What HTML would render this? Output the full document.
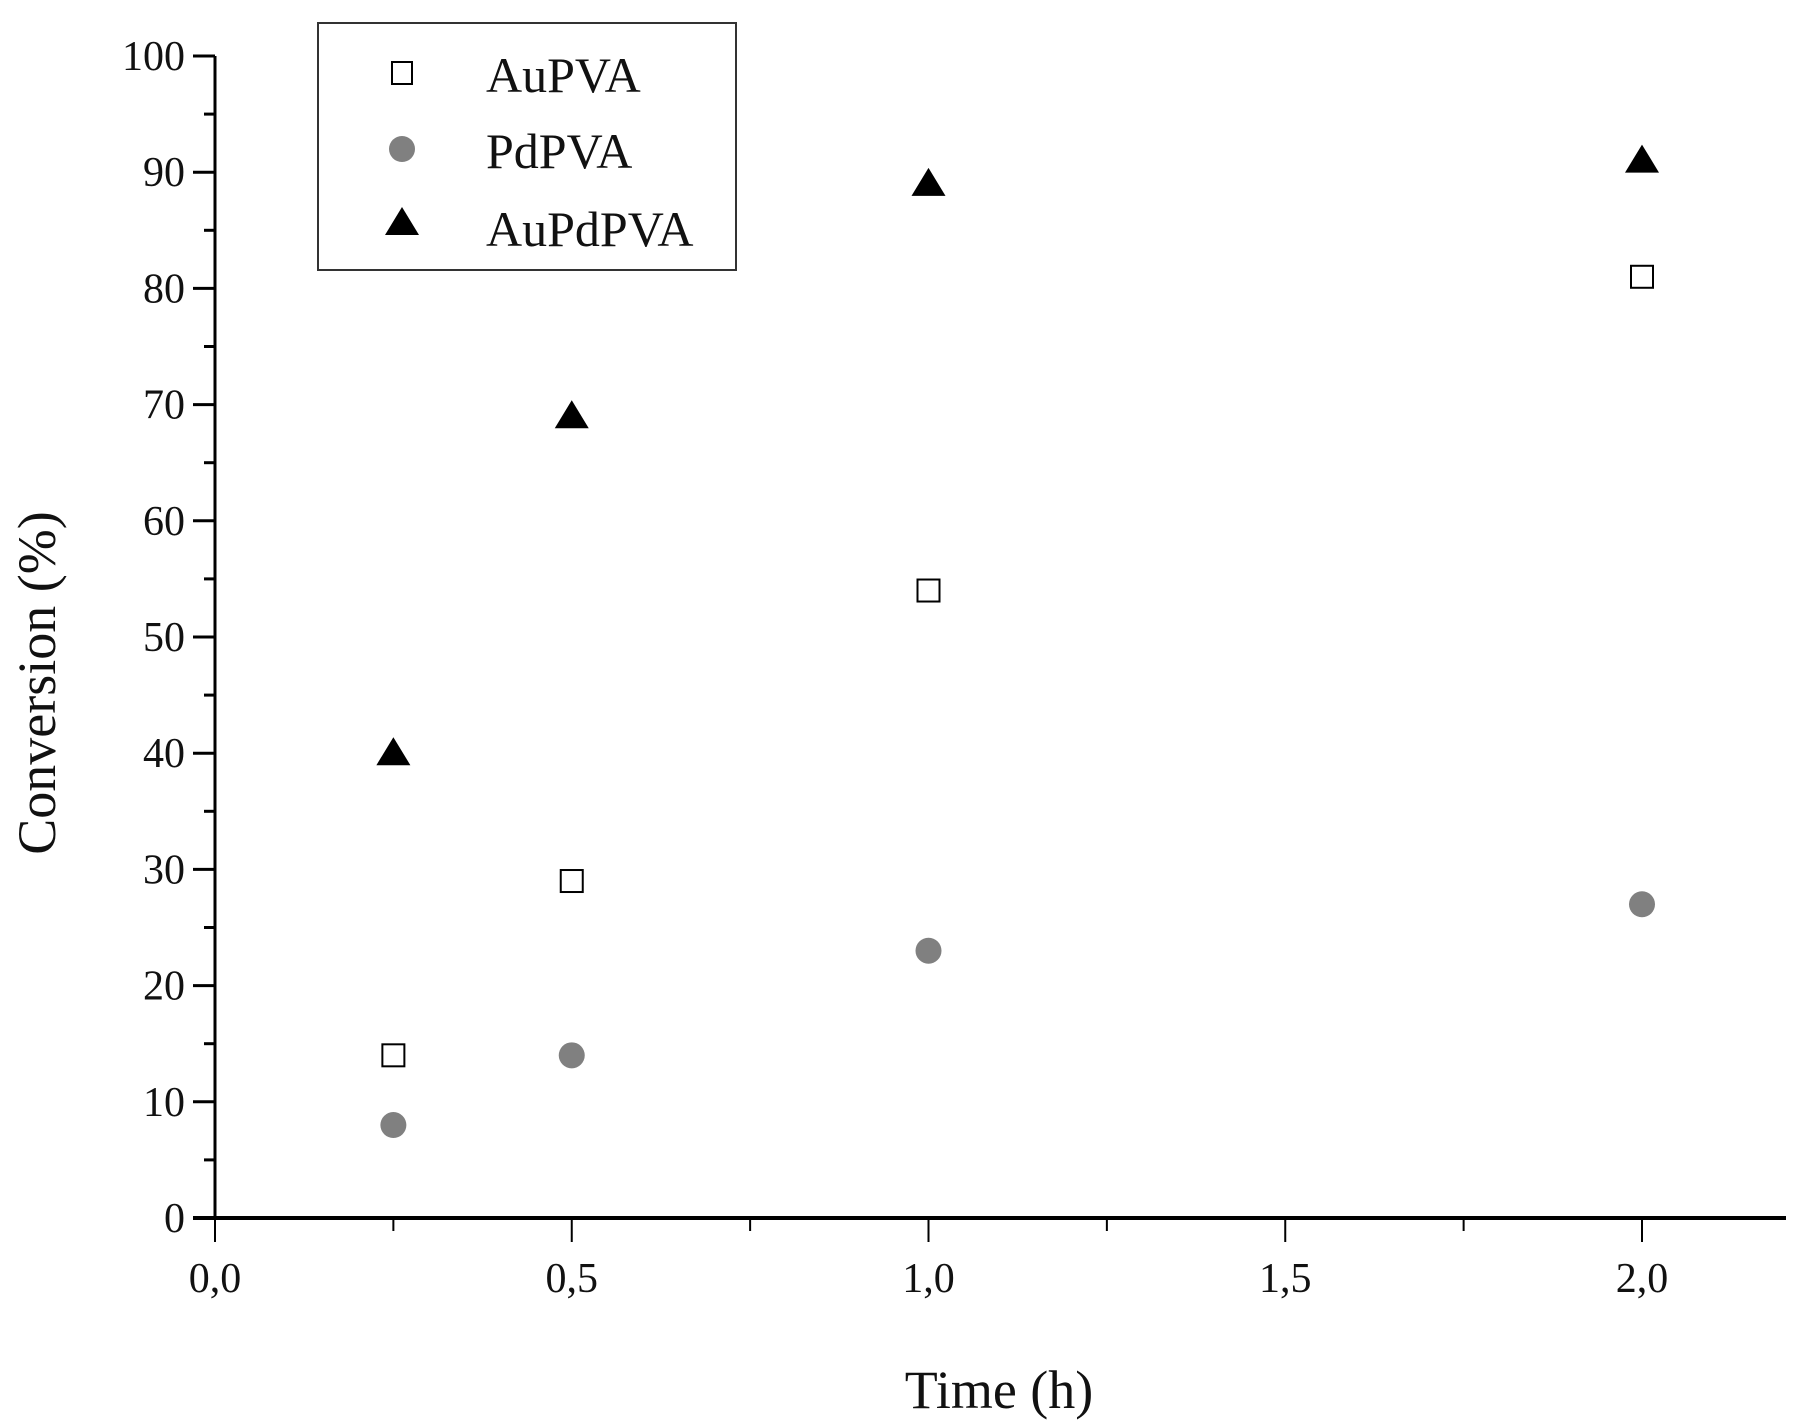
<!DOCTYPE html>
<html><head><meta charset="utf-8"><style>
html,body{margin:0;padding:0;background:#fff}
svg{display:block;font-family:"Liberation Serif",serif}
</style></head><body>
<svg id="chart" width="1799" height="1426" viewBox="0 0 1799 1426" xmlns="http://www.w3.org/2000/svg">
<g id="axes"></g>
<g id="marks"></g>
<text transform="translate(55,683) rotate(-90)" text-anchor="middle" font-size="54" fill="#111">Conversion (%)</text>
<text x="999" y="1408" text-anchor="middle" font-size="54" fill="#111">Time (h)</text>
<g>
<rect x="318" y="23" width="418" height="247" fill="#fff" stroke="#333" stroke-width="2"/>
<rect x="392" y="62" width="20" height="22" fill="#fff" stroke="#000" stroke-width="2"/>
<text x="486" y="92" font-size="50" fill="#111">AuPVA</text>
<circle cx="402" cy="149" r="13" fill="#808080"/>
<text x="486" y="168" font-size="50" fill="#111">PdPVA</text>
<polygon points="385,235 419,235 402,207" fill="#000"/>
<text x="486" y="246" font-size="50" fill="#111">AuPdPVA</text>
</g>
</svg>
<script>
const times = [0.25, 0.5, 1.0, 2.0];
const auPVA = [14, 29, 54, 81];
const pdPVA = [8, 14, 23, 27];
const auPdPVA = [40, 69, 89, 91];
const xTickLabels = ["0,0","0,5","1,0","1,5","2,0"];
const yTickLabels = ["0","10","20","30","40","50","60","70","80","90","100"];

const NS="http://www.w3.org/2000/svg";
const x = t => 215 + t*713.5;
const y = v => 1218 - v*11.62;
function mk(tag, attrs, parent){const e=document.createElementNS(NS,tag);for(const k in attrs)e.setAttribute(k,attrs[k]);parent.appendChild(e);return e;}
const axes=document.getElementById('axes'), marks=document.getElementById('marks');
let e;
e=mk('line',{x1:x(0),y1:y(0),x2:x(0),y2:y(100),stroke:'#000','stroke-width':3},axes);


e=mk('line',{x1:x(0)-22,y1:y(0),x2:1786,y2:y(0),stroke:'#000','stroke-width':4},axes);


for(let v=0; v<=100; v+=5){
  const major=v%10===0;
  e=mk('line',{x1:x(0)-(major?22:11),y1:y(v),x2:x(0),y2:y(v),stroke:'#000','stroke-width':3},axes);
  
  
}
yTickLabels.forEach((l,i)=>{
  e=mk('text',{x:x(0)-30,y:y(i*10)+14,'text-anchor':'end','font-size':42,fill:'#111'},axes);
  e.textContent=l;
  
  
});
for(let i=0;i<=8;i++){
  const t=i*0.25, major=i%2===0;
  e=mk('line',{x1:x(t),y1:y(0),x2:x(t),y2:y(0)+(major?24:13),stroke:'#000','stroke-width':2},axes);
  
  
}
xTickLabels.forEach((l,i)=>{
  e=mk('text',{x:x(i*0.5),y:1292,'text-anchor':'middle','font-size':42,fill:'#111'},axes);
  e.textContent=l;
  
  
});
times.forEach((t,i)=>{
  e=mk('rect',{x:x(t)-11,y:y(auPVA[i])-11,width:22,height:22,fill:'#fff',stroke:'#000','stroke-width':2},marks);
  
  
  e=mk('circle',{cx:x(t),cy:y(pdPVA[i]),r:13,fill:'#808080'},marks);
  
  
  const cx=x(t), cy=y(auPdPVA[i]);
  e=mk('polygon',{points:`${cx-17},${cy+12} ${cx+17},${cy+12} ${cx},${cy-16}`,fill:'#000'},marks);
  
  
});
</script>
</body></html>
